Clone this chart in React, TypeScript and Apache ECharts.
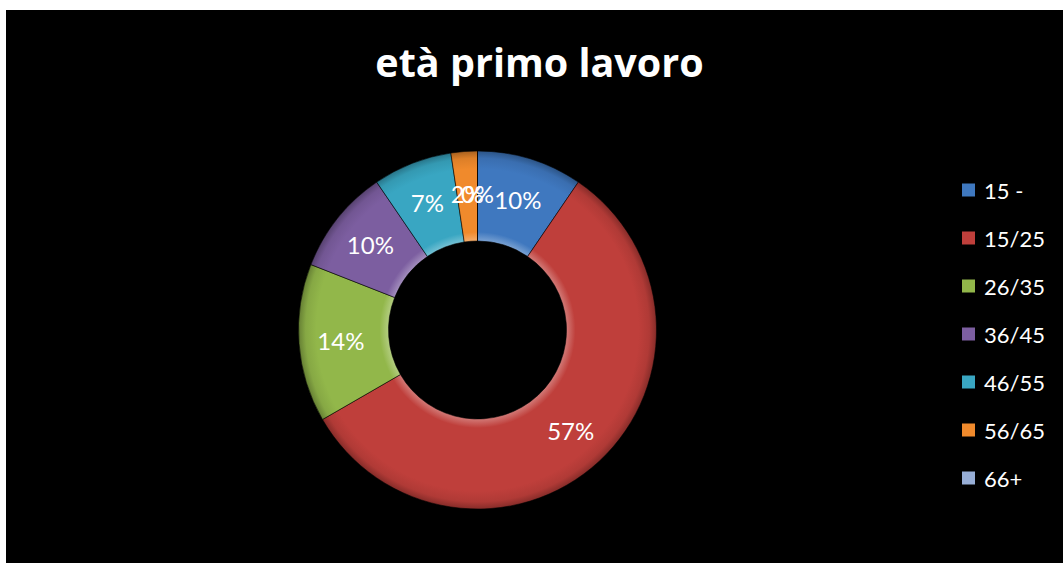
import React, { useEffect, useRef } from "react";
import * as echarts from "echarts";

const categories = ["15 -", "15/25", "26/35", "36/45", "46/55", "56/65", "66+"];
const counts = [4, 24, 6, 4, 3, 1, 0];
const baseColors = ["#3f78bf", "#bf3f3b", "#92b74a", "#7c5ea0", "#39a6c2", "#f08a2c", "#97aed6"];
const chartTitle = "età primo lavoro";

function shade(hex: string, f: number): string {
  const n = parseInt(hex.slice(1), 16);
  let r = (n >> 16) & 255, g = (n >> 8) & 255, b = n & 255;
  const adj = (c: number) => (f >= 0 ? Math.round(c + (255 - c) * f) : Math.round(c * (1 + f)));
  r = adj(r); g = adj(g); b = adj(b);
  return "rgb(" + r + "," + g + "," + b + ")";
}

export default function App() {
  const ref = useRef<HTMLDivElement>(null);
  useEffect(() => {
    if (!ref.current) return;
    const chart = echarts.init(ref.current, null, { renderer: "svg" });
    const cx = 471.5, cy = 320, rIn = 89, rOut = 179;
    const fz = "Lato, 'Open Sans', sans-serif";
    const data = categories.map((name, i) => ({
      name,
      value: counts[i],
      itemStyle: {
        color: new echarts.graphic.RadialGradient(cx, cy, rOut, [
          { offset: 0, color: shade(baseColors[i], 0.3) },
          { offset: rIn / rOut, color: shade(baseColors[i], 0.3) },
          { offset: rIn / rOut + 0.05, color: baseColors[i] },
          { offset: 0.9, color: baseColors[i] },
          { offset: 0.96, color: shade(baseColors[i], -0.08) },
          { offset: 1, color: shade(baseColors[i], -0.3) },
        ], true),
      },
    }));
    chart.setOption({
      animation: false,
      backgroundColor: "#000",
      graphic: [
        {
          type: "text",
          x: 533.5,
          y: 52,
          style: {
            text: chartTitle,
            fill: "#fff",
            font: "bold 39.5px 'Open Sans', sans-serif",
            textAlign: "center",
            textVerticalAlign: "middle",
          },
        },
      ],
      legend: {
        orient: "vertical",
        left: 951,
        top: 164,
        icon: "rect",
        itemWidth: 13,
        itemHeight: 13,
        itemGap: 26,
        textStyle: { color: "#fff", fontSize: 22, fontFamily: fz, lineHeight: 22, padding: [0, 0, 0, 4] },
        itemStyle: { borderWidth: 0 },
        data: categories.map((name, i) => ({ name, itemStyle: { color: baseColors[i], borderWidth: 0 } })),
      },
      series: [
        {
          type: "pie",
          center: [cx, cy],
          radius: [rIn, rOut],
          startAngle: 90,
          clockwise: true,
          avoidLabelOverlap: false,
          minShowLabelAngle: 0,
          itemStyle: { borderColor: "rgba(0,0,0,0.55)", borderWidth: 1 },
          label: {
            show: true,
            position: "inside",
            color: "#fff",
            fontSize: 24,
            fontFamily: fz,
            textBorderWidth: 0,
            formatter: (p: any) => Math.round(p.percent) + "%",
          },
          labelLine: { show: false },
          emphasis: { disabled: true },
          data,
        },
      ],
    });
    // ECharts hides the label of a zero-angle slice; the reference shows it ("0%")
    try {
      const d = (chart as any).getModel().getSeriesByIndex(0).getData();
      d.each((idx: number) => {
        const el = d.getItemGraphicEl(idx);
        const lb = el && el.getTextContent();
        if (lb && lb.ignore) {
          lb.ignore = false;
          lb.markRedraw();
        }
      });
      chart.getZr().refreshImmediately();
    } catch (e) {
      /* ignore */
    }
    return () => chart.dispose();
  }, []);
  return (
    <div style={{ position: "absolute", left: 0, top: 0, width: 1063, height: 563, background: "#fff" }}>
      <div ref={ref} style={{ position: "absolute", left: 6, top: 10, width: 1057, height: 553 }} />
    </div>
  );
}
